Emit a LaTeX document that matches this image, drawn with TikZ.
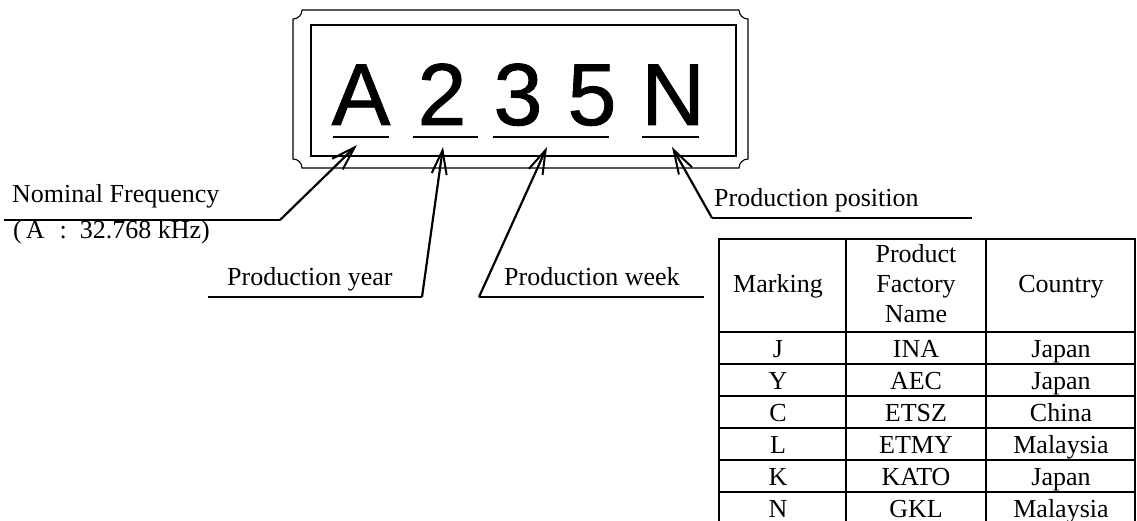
\documentclass[tikz,border=0pt]{standalone}
\usepackage{fontspec}
\setmainfont{Liberation Serif}
\newfontfamily\arialfont[FakeBold=1]{Liberation Sans}
\usetikzlibrary{arrows.meta}
\begin{document}
\begin{tikzpicture}[x=1pt,y=-1pt,
  lbl/.style={anchor=base west, inner sep=0pt, font=\fontsize{26}{30}\selectfont},
  big/.style={anchor=base, inner sep=0pt, font=\arialfont\fontsize{88}{90}\selectfont},
  uline/.style={line width=1.5pt},
  ptr/.style={line width=2.2pt, -{Straight Barb[length=24pt,width=15pt,line width=2pt]}},
  cell/.style={anchor=base, inner sep=0pt, font=\fontsize{26}{30}\selectfont},
  gridline/.style={line width=1.3pt},
  frameline/.style={line width=1.1pt}]
\useasboundingbox (0,0) rectangle (1137,521);

% marking frame
\draw[frameline] (302,10) -- (739,10) .. controls (739,15) and (743,19) .. (748,19)
  -- (748,159) .. controls (743,159) and (739,163) .. (739,168)
  -- (302,168) .. controls (302,163) and (298,159) .. (293,159)
  -- (293,19) .. controls (298,19) and (302,15) .. (302,10) -- cycle;
\draw[line width=1.4pt] (311,25) rectangle (736,156);

% big characters
\node[big] (cA) at (361,125) {A};
\node[big] (c2) at (442,125) {2};
\node[big] (c3) at (518,125) {3};
\node[big] (c5) at (592,125) {5};
\node[big] (cN) at (673,125) {N};

% underlines under characters
\coordinate (uA1) at (333,137); \coordinate (uA2) at (389,137);
\coordinate (u21) at (413,137); \coordinate (u22) at (478,137);
\coordinate (u31) at (493,137); \coordinate (u32) at (609,137);
\coordinate (uN1) at (642,137); \coordinate (uN2) at (699,137);
\draw[uline] (uA1) -- (uA2);
\draw[uline] (u21) -- (u22);
\draw[uline] (u31) -- (u32);
\draw[uline] (uN1) -- (uN2);

% arrow tips
\coordinate (tA) at (357,145);
\coordinate (t2) at (443,147);
\coordinate (t3) at (547,147);
\coordinate (tN) at (672,147);

% labels
\node[lbl] (lfreq) at (12,203) {Nominal Frequency};
\node[lbl] (lfreqv) at (13,239) {(\hspace{4pt}A\hspace{15pt}:\hspace{13pt}32.768 kHz)};
\coordinate (f1) at (4,220); \coordinate (f2) at (280,220);
\draw[uline] (f1) -- (f2);

\node[lbl] (lyear) at (227,285) {Production year};
\coordinate (y1) at (208,297); \coordinate (y2) at (422,297);
\draw[uline] (y1) -- (y2);

\node[lbl] (lweek) at (504,285) {Production week};
\coordinate (w1) at (479,297); \coordinate (w2) at (704,297);
\draw[uline] (w1) -- (w2);

\node[lbl] (lpos) at (714,207) {Production position};
\coordinate (p1) at (712,218); \coordinate (p2) at (972,218);
\draw[uline] (p1) -- (p2);

% pointers
\draw[ptr] (f2) -- (tA);
\draw[ptr] (y2) -- (t2);
\draw[ptr] (w1) -- (t3);
\draw[ptr] (p1) -- (tN);

% table
\draw[gridline] (719,521) -- (719,239) -- (1135,239) -- (1135,521);
\draw[gridline] (846,239) -- (846,521);
\draw[gridline] (986,239) -- (986,521);
\foreach \yy in {332,364,396,428,460,492}
  \draw[gridline] (719,\yy) -- (1135,\yy);

\node[cell] (hM) at (778,292) {Marking};
\node[cell] (hF1) at (916,262) {Product};
\node[cell] (hF2) at (916,292) {Factory};
\node[cell] (hF3) at (916,322) {Name};
\node[cell] (hC) at (1061,292) {Country};

\node[cell] (m1) at (778,357) {J};   \node[cell] (f1n) at (916,357) {INA};  \node[cell] (k1) at (1061,357) {Japan};
\node[cell] (m2) at (778,389) {Y};   \node[cell] (f2n) at (916,389) {AEC};  \node[cell] (k2) at (1061,389) {Japan};
\node[cell] (m3) at (778,421) {C};   \node[cell] (f3n) at (916,421) {ETSZ}; \node[cell] (k3) at (1061,421) {China};
\node[cell] (m4) at (778,453) {L};   \node[cell] (f4n) at (916,453) {ETMY}; \node[cell] (k4) at (1061,453) {Malaysia};
\node[cell] (m5) at (778,485) {K};   \node[cell] (f5n) at (916,485) {KATO}; \node[cell] (k5) at (1061,485) {Japan};
\node[cell] (m6) at (778,517) {N};   \node[cell] (f6n) at (916,517) {GKL};  \node[cell] (k6) at (1061,517) {Malaysia};
\end{tikzpicture}
\end{document}
